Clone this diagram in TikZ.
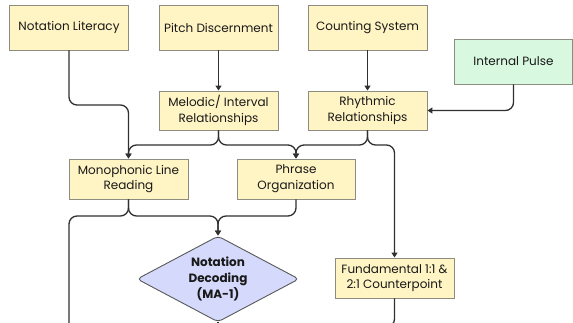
\documentclass[tikz,border=0pt]{standalone}
\usepackage{fontspec}
\setmainfont{Poppins}
\usetikzlibrary{shapes.geometric,arrows.meta}

\definecolor{boxfill}{HTML}{FFF4C4}
\definecolor{boxline}{HTML}{8C8C80}
\definecolor{pulsefill}{HTML}{D9F8E0}
\definecolor{decfill}{HTML}{D5D9FB}
\definecolor{flowline}{HTML}{303030}

\tikzset{
  x=1pt, y=-1pt,
  stepbox/.style={draw=boxline, fill=boxfill, line width=0.9pt, align=center,
    minimum width=119pt, inner sep=1pt, text=black!90,
    font=\fontsize{12}{15.7}\selectfont},
  tallbox/.style={stepbox, minimum height=45pt},
  midbox/.style={stepbox, minimum height=40pt},
  pulsebox/.style={tallbox, fill=pulsefill},
  decision/.style={diamond, draw=flowline!80, fill=decfill, line width=0.9pt,
    aspect=1.88, minimum width=162pt, minimum height=86pt, inner sep=0pt,
    rounded corners=4pt, align=center, text=black!90,
    font=\fontsize{12}{15.7}\selectfont\bfseries},
  flow/.style={draw=flowline, line width=1.3pt, rounded corners=8pt,
    -{Triangle[length=5pt,width=6pt]}},
  flowend/.style={draw=flowline, line width=1.3pt, rounded corners=8pt},
}

\begin{document}
\begin{tikzpicture}
\useasboundingbox (0,0) rectangle (573,323);

% top row
\node[tallbox]  (lit)   at (69,27.5)    {Notation Literacy};
\node[tallbox]  (pitch) at (218.5,27.5) {Pitch Discernment};
\node[tallbox]  (count) at (367.5,27.5) {Counting System};
\node[pulsebox, minimum width=118pt] (pulse) at (513.5,61.5) {Internal Pulse};

% relationships
\node[midbox, minimum height=39pt] (mel) at (218.5,110.5) {Melodic/ Interval\\Relationships};
\node[midbox, minimum height=39pt] (rhy) at (367.5,110.5) {Rhythmic\\Relationships};

% reading and phrasing
\node[midbox] (mono) at (128.5,179) {Monophonic Line\\Reading};
\node[midbox, minimum width=118pt] (phr) at (296,179) {Phrase\\Organization};

% decoding and counterpoint
\node[decision] (dec) at (218,279) {Notation\\Decoding\\(MA-1)};
\node[midbox] (fund) at (394.5,278) {Fundamental 1:1 \&\\2:1 Counterpoint};

% bus levels and loose ends
\coordinate (busA) at (0,105);
\coordinate (busB) at (0,145);
\coordinate (busC) at (0,216);
\coordinate (outL) at (69,335);
\coordinate (outD) at (218,335);
\coordinate (outF) at (370,327);

% connectors
\draw[flow] (lit.south) |- (busA -| mono.north) -- (mono.north);
\draw[flow] (pitch.south) -- (mel.north);
\draw[flow] (count.south) -- (rhy.north);
\draw[flow] (pulse.south) |- (rhy.east);

\draw[flow] (mel.south) |- (busB -| mono.north) -- (mono.north);
\draw[flow] (mel.south) |- (busB -| phr.north) -- (phr.north);
\draw[flow] (rhy.south) |- (busB -| phr.north) -- (phr.north);
\draw[flow] (rhy.south) |- (busB -| fund.north) -- (fund.north);

\draw[flowend] (mono.south) |- (busC -| outL) -- (outL);
\draw[flow] (mono.south) |- (busC -| dec.north) -- (dec.north);
\draw[flow] (phr.south) |- (busC -| dec.north) -- (dec.north);
\draw[flowend] (dec.south) -- (outD);
\draw[flowend] (fund.south) |- (outF);
\end{tikzpicture}
\end{document}
